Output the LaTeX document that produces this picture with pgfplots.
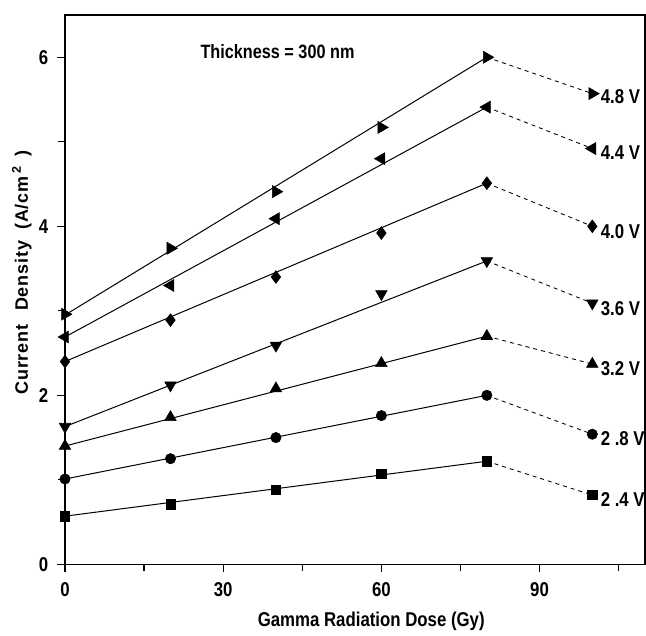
\documentclass[border=0pt]{standalone}
\usepackage{fontspec}
\setmainfont{Liberation Sans Bold}[FakeStretch=0.84]
\newfontfamily\ylabfont{Liberation Sans Bold}[LetterSpace=5]
\usepackage{pgfplots}
\pgfplotsset{compat=1.18}
\begin{document}
\begin{tikzpicture}
\begin{axis}[
    scale only axis,
    width=435pt, height=412pt,
    xmin=0, xmax=110, ymin=0, ymax=6.5,
    xtick={0,30,60,90}, ytick={0,2,4,6},
    minor xtick={15,45,75,105}, minor ytick={1,3,5},
    tick align=outside, tick pos=left,
    major tick length=6pt, minor tick length=5pt,
    every tick/.style={black, line width=0.9pt},
    axis line style={line width=1.1pt},
    /pgf/number format/assume math mode=true,
    ticklabel style={font=\fontsize{15}{17}\selectfont},
    xticklabel style={yshift=-4pt},
    yticklabel style={xshift=-3pt},
    xlabel={Gamma Radiation Dose (Gy)},
    xlabel style={font=\fontsize{15}{17}\selectfont, at={(axis description cs:0.528,-0.113)}, anchor=base},
    ylabel={Current\hspace{10pt}Density\hspace{8pt}(A/cm\hspace{2pt}\textsuperscript{2}\hspace{7pt})},
    ylabel style={font=\ylabfont\fontsize{13.5}{16}\selectfont, at={(axis description cs:-0.064,0.531)}, anchor=base},
    clip=false,
]
% fitted lines, 0 to 80 Gy
\addplot[black, line width=0.75pt] coordinates {(0,2.95) (80,6.00)};
\addplot[black, line width=0.75pt] coordinates {(0,2.69) (80,5.41)};
\addplot[black, line width=0.75pt] coordinates {(0,2.40) (80,4.51)};
\addplot[black, line width=0.75pt] coordinates {(0,1.63) (80,3.59)};
\addplot[black, line width=0.75pt] coordinates {(0,1.40) (80,2.70)};
\addplot[black, line width=0.75pt] coordinates {(0,1.01) (80,2.00)};
\addplot[black, line width=0.75pt] coordinates {(0,0.57) (80,1.22)};
% dashed drop, 80 to 100 Gy
\addplot[black, dashed, line width=0.65pt] coordinates {(80,6.00) (100,5.57)};
\addplot[black, dashed, line width=0.65pt] coordinates {(80,5.41) (100,4.92)};
\addplot[black, dashed, line width=0.65pt] coordinates {(80,4.51) (100,4.00)};
\addplot[black, dashed, line width=0.65pt] coordinates {(80,3.59) (100,3.09)};
\addplot[black, dashed, line width=0.65pt] coordinates {(80,2.70) (100,2.37)};
\addplot[black, dashed, line width=0.65pt] coordinates {(80,2.00) (100,1.54)};
\addplot[black, dashed, line width=0.65pt] coordinates {(80,1.22) (100,0.82)};
% markers
\addplot[only marks, mark=triangle*, mark size=5.2pt, mark options={rotate=-90, fill=black}] coordinates {(0,2.96) (20,3.74) (40,4.41) (60,5.17) (80,6.00) (100,5.57)};
\addplot[only marks, mark=triangle*, mark size=5.2pt, mark options={rotate=90, fill=black}] coordinates {(0,2.69) (20,3.30) (40,4.09) (60,4.80) (80,5.41) (100,4.92)};
\addplot[only marks, mark=diamond*, mark size=4.8pt, mark options={fill=black}] coordinates {(0,2.40) (20,2.89) (40,3.40) (60,3.92) (80,4.51) (100,4.00)};
\addplot[only marks, mark=triangle*, mark size=5pt, mark options={rotate=180, fill=black}] coordinates {(0,1.63) (20,2.12) (40,2.59) (60,3.20) (80,3.59) (100,3.09)};
\addplot[only marks, mark=triangle*, mark size=5pt, mark options={fill=black}] coordinates {(0,1.40) (20,1.74) (40,2.08) (60,2.38) (80,2.70) (100,2.37)};
\addplot[only marks, mark=*, mark size=3.9pt, mark options={fill=black}] coordinates {(0,1.01) (20,1.25) (40,1.50) (60,1.76) (80,2.00) (100,1.54)};
\addplot[only marks, mark=square*, mark size=3.5pt, mark options={fill=black}] coordinates {(0,0.57) (20,0.71) (40,0.88) (60,1.07) (80,1.22) (100,0.82)};
% voltage labels
\begin{scope}[every node/.style={font=\fontsize{15}{17}\selectfont, anchor=west, inner sep=1pt}]
\node at (axis cs:101.3,5.53) {4.8 V};
\node at (axis cs:101.3,4.87) {4.4 V};
\node at (axis cs:101.3,3.94) {4.0 V};
\node at (axis cs:101.3,3.03) {3.6 V};
\node at (axis cs:101.3,2.31) {3.2 V};
\node at (axis cs:101.3,1.49) {2 .8 V};
\node at (axis cs:101.3,0.77) {2 .4 V};
\end{scope}
\node[font=\fontsize{14.5}{16}\selectfont] at (axis cs:40.3,6.07) {Thickness = 300 nm};
\end{axis}
% page margins as in the reference
\path (current axis.south west) ++(-48.75pt,-48pt) (current axis.north east) ++(0.6pt,11.25pt);
\end{tikzpicture}
\end{document}
